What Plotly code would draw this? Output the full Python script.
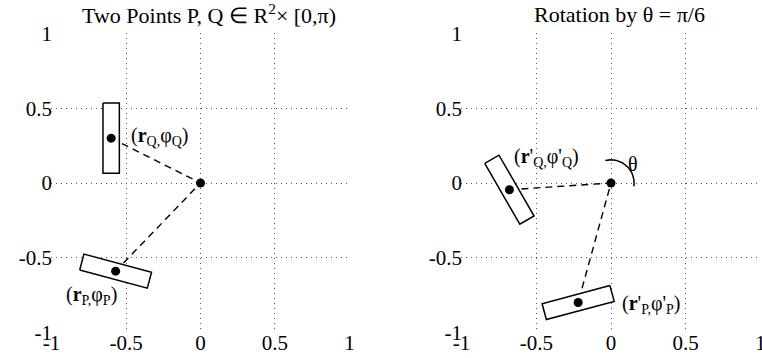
import numpy as np
import plotly.graph_objects as go

# ---- data ----
tick_vals = [-1, -0.5, 0, 0.5, 1]
tick_text = ["-1", "-0.5", "0", "0.5", "1"]

# left panel: points Q, P (centre x, centre y, orientation in degrees)
left_x = [-0.60, -0.57]
left_y = [0.30, -0.59]
left_phi = [90, 165]
left_labels = ["(<b>r</b><sub>Q,</sub>φ<sub>Q</sub>)", "(<b>r</b><sub>P,</sub>φ<sub>P</sub>)"]
left_label_x = [-0.483, -0.918]
left_label_y = [0.313, -0.753]

# right panel: rotated points Q', P'
right_x = [-0.68, -0.22]
right_y = [-0.045, -0.80]
right_phi = [120, 15]
right_labels = ["(<b>r</b>'<sub>Q,</sub>φ'<sub>Q</sub>)", "(<b>r</b>'<sub>P,</sub>φ'<sub>P</sub>)"]
right_label_x = [-0.666, 0.059]
right_label_y = [0.173, -0.813]

origin = [0.0, 0.0]
rect_length = 0.47
rect_width = 0.11

theta_arc_start = -8     # degrees
theta_arc_end = 110      # degrees
theta_arc_radius = 0.155

FONT = "Liberation Serif"

fig = go.Figure()


def rect_polygon(cx, cy, phi_deg, L, W):
    a = np.deg2rad(phi_deg)
    u = np.array([np.cos(a), np.sin(a)])
    v = np.array([-np.sin(a), np.cos(a)])
    c = np.array([cx, cy])
    pts = [c + u * L / 2 + v * W / 2, c - u * L / 2 + v * W / 2,
           c - u * L / 2 - v * W / 2, c + u * L / 2 - v * W / 2]
    pts.append(pts[0])
    pts = np.array(pts)
    return pts[:, 0], pts[:, 1]


def add_panel(xs, ys, phis, xa, ya):
    # dashed connectors through the origin
    fig.add_trace(go.Scatter(
        x=[xs[0], origin[0], xs[1]], y=[ys[0], origin[1], ys[1]],
        mode="lines", line=dict(color="black", width=1.4, dash="7px,5px"),
        xaxis=xa, yaxis=ya, showlegend=False, hoverinfo="skip"))
    # rectangles
    for cx, cy, ph in zip(xs, ys, phis):
        px, py = rect_polygon(cx, cy, ph, rect_length, rect_width)
        fig.add_trace(go.Scatter(
            x=px, y=py, mode="lines", fill="toself", fillcolor="white",
            line=dict(color="black", width=1.5),
            xaxis=xa, yaxis=ya, showlegend=False, hoverinfo="skip"))
    # dots
    fig.add_trace(go.Scatter(
        x=list(xs) + [origin[0]], y=list(ys) + [origin[1]], mode="markers",
        marker=dict(color="black", size=9),
        xaxis=xa, yaxis=ya, showlegend=False, hoverinfo="skip"))


add_panel(left_x, left_y, left_phi, "x", "y")
add_panel(right_x, right_y, right_phi, "x2", "y2")

# theta arc
ang = np.deg2rad(np.linspace(theta_arc_start, theta_arc_end - 6, 40))
fig.add_trace(go.Scatter(
    x=theta_arc_radius * np.cos(ang), y=theta_arc_radius * np.sin(ang),
    mode="lines", line=dict(color="black", width=1.5),
    xaxis="x2", yaxis="y2", showlegend=False, hoverinfo="skip"))

te = np.deg2rad(theta_arc_end)
tb = np.deg2rad(theta_arc_end - 8)
annotations = [
    dict(x=theta_arc_radius * np.cos(te), y=theta_arc_radius * np.sin(te),
         ax=theta_arc_radius * np.cos(tb), ay=theta_arc_radius * np.sin(tb),
         xref="x2", yref="y2", axref="x2", ayref="y2", showarrow=True,
         arrowhead=2, arrowsize=1.4, arrowwidth=1.5, arrowcolor="black",
         standoff=0, text=""),
    dict(x=0.15, y=0.13, xref="x2", yref="y2", text="θ", showarrow=False,
         font=dict(family=FONT, size=20, color="black")),
    dict(x=209 / 762, y=1.0, yshift=19, xref="paper", yref="paper",
         xanchor="center", yanchor="middle",
         text="Two Points P, Q ∈ R<sup>2</sup>× [0,π)", showarrow=False,
         font=dict(family=FONT, size=22, color="black")),
    dict(x=619 / 762, y=1.0, yshift=19, xref="paper", yref="paper",
         xanchor="center", yanchor="middle",
         text="Rotation by θ = π/6", showarrow=False,
         font=dict(family=FONT, size=22, color="black")),
]
for t, lx, ly in zip(left_labels, left_label_x, left_label_y):
    annotations.append(dict(x=lx, y=ly, xref="x", yref="y", text=t,
                            showarrow=False, xanchor="left", yanchor="middle",
                            font=dict(family=FONT, size=20, color="black")))
for t, lx, ly in zip(right_labels, right_label_x, right_label_y):
    annotations.append(dict(x=lx, y=ly, xref="x2", yref="y2", text=t,
                            showarrow=False, xanchor="left", yanchor="middle",
                            font=dict(family=FONT, size=20, color="black")))

axis_common = dict(range=[-1.004, 1.004], tickvals=tick_vals, ticktext=tick_text,
                   showgrid=True, gridcolor="#555", griddash="1px,4px",
                   gridwidth=1, zeroline=False, showline=False, ticks="",
                   automargin=False, ticklabeloverflow="allow",
                   tickfont=dict(family=FONT, size=21, color="black"))
x_extra = dict(ticklabelstandoff=-5)
y_extra = dict(ticklabelstandoff=-2)

fig.update_layout(
    width=762, height=358,
    margin=dict(l=0, r=0, t=33, b=25, autoexpand=False),
    paper_bgcolor="white", plot_bgcolor="white",
    xaxis=dict(domain=[51 / 762, 350 / 762], anchor="y", **axis_common, **x_extra),
    yaxis=dict(domain=[0, 1], anchor="x", **axis_common, **y_extra),
    xaxis2=dict(domain=[461 / 762, 761 / 762], anchor="y2", **axis_common, **x_extra),
    yaxis2=dict(domain=[0, 1], anchor="x2", **axis_common, **y_extra),
    annotations=annotations,
)

fig.write_html(
    "out.html",
    config={"displayModeBar": False},
    post_script="document.body.style.margin='0';document.body.style.overflow='hidden';",
)
